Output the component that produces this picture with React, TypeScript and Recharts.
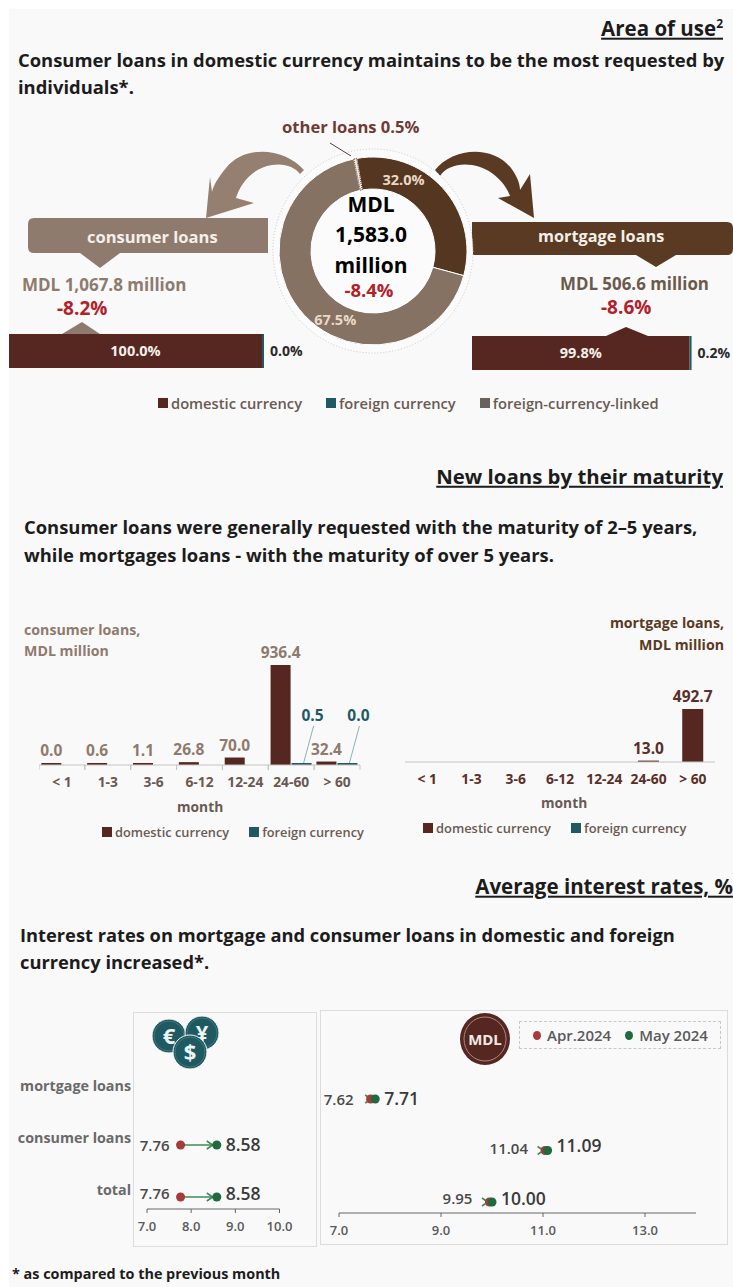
import React from "react";
import {
  BarChart,
  Bar,
  Cell,
  LabelList,
  PieChart,
  Pie,
  ReferenceLine,
  Scatter,
  ScatterChart,
  XAxis,
  YAxis,
  ZAxis,
} from "recharts";

const FONT = "'Open Sans', sans-serif";
const DOMESTIC = "#562620";
const FOREIGN = "#1f5a63";
const LINKED = "#68625d";
const CONSUMER = "#8f7b6e";
const MORTGAGE = "#5a3a22";
const RED = "#b3202a";

// area of use
const purposeNames = ["mortgage loans", "consumer loans", "other loans"];
const purposeShares = [32.0, 67.5, 0.5];
const purposeColors = ["#553620", "#857263", "#efe9e2"];
const labelAngleShift = [24.6, 17.7];
const consumerSplit = [{ name: "consumer loans", domestic: 100.0, foreign: 0.0 }];
const mortgageSplit = [{ name: "mortgage loans", domestic: 99.8, foreign: 0.2 }];

// maturity
const maturities = ["< 1", "1-3", "3-6", "6-12", "12-24", "24-60", "> 60"];
const consumerDomestic = [0.0, 0.6, 1.1, 26.8, 70.0, 936.4, 32.4];
const consumerForeign = [null, null, null, null, null, 0.5, 0.0];
const mortgageDomestic = [null, null, null, null, null, 13.0, 492.7];
const mortgageForeign = [null, null, null, null, null, null, null];
const consumerMaturity = maturities.map((m, i) => ({ m, domestic: consumerDomestic[i], foreign: consumerForeign[i] }));
const mortgageMaturity = maturities.map((m, i) => ({ m, domestic: mortgageDomestic[i], foreign: mortgageForeign[i] }));

// interest rates, rows from the bottom up
const rowNames = ["total", "consumer loans", "mortgage loans"];
const fxApr = [7.76, 7.76];
const fxMay = [8.58, 8.58];
const mdlApr = [9.95, 11.04, 7.62];
const mdlMay = [10.0, 11.09, 7.71];
const toRows = (vals: number[]) => vals.map((x, y) => ({ x, y }));

function T({ x, right, y, size, color = "#1c1c1c", weight = 700, style, children }: any) {
  return (
    <div
      style={{
        position: "absolute",
        left: x,
        right,
        top: y,
        transform: "translateY(-50%)",
        fontSize: size,
        color,
        fontWeight: weight,
        whiteSpace: "nowrap",
        lineHeight: 1.2,
        ...style,
      }}
    >
      {children}
    </div>
  );
}

function LegendRow({ items, x, y, gap, size = 14.5 }: any) {
  return (
    <div
      style={{
        position: "absolute",
        left: x,
        top: y,
        transform: "translateY(-50%)",
        display: "flex",
        gap,
        fontSize: size,
        fontWeight: 600,
        color: "#6a5a52",
        whiteSpace: "nowrap",
      }}
    >
      {items.map(([name, color]: string[]) => (
        <span key={name} style={{ display: "flex", alignItems: "center", gap: 3 }}>
          <span style={{ width: 10, height: 10, background: color, display: "inline-block" }} />
          {name}
        </span>
      ))}
    </div>
  );
}

function ShareBar({ data, x, y, width, plotWidth }: any) {
  return (
    <div style={{ position: "absolute", left: x, top: y }}>
      <BarChart
        width={width}
        height={34}
        data={data}
        layout="vertical"
        barCategoryGap={0}
        margin={{ top: 0, right: width - plotWidth, bottom: 0, left: 0 }}
      >
        <XAxis type="number" hide domain={[0, 100]} />
        <YAxis type="category" hide dataKey="name" />
        <Bar dataKey="domestic" stackId="a" fill={DOMESTIC} isAnimationActive={false}>
          <LabelList
            dataKey="domestic"
            position="center"
            formatter={(v: any) => `${Number(v).toFixed(1)}%`}
            style={{ fill: "#f4efe9", fontSize: 14.5, fontWeight: 700, fontFamily: FONT }}
          />
        </Bar>
        <Bar dataKey="foreign" stackId="a" fill={FOREIGN} minPointSize={2} isAnimationActive={false}>
          <LabelList
            dataKey="foreign"
            position="right"
            offset={6}
            formatter={(v: any) => `${Number(v).toFixed(1)}%`}
            style={{ fill: "#2a2a2a", fontSize: 14, fontWeight: 700, fontFamily: FONT }}
          />
        </Bar>
      </BarChart>
    </div>
  );
}

const pointSize = (v: any) => (v == null ? 0 : 2);

function maturityTick(color: string, bandWidth: number, marks: boolean) {
  return (p: any) => (
    <g>
      {marks && (
        <>
          <line x1={p.x - bandWidth / 2} x2={p.x - bandWidth / 2} y1={p.y - 8} y2={p.y - 3} stroke="#c4c4c4" />
          <line x1={p.x + bandWidth / 2} x2={p.x + bandWidth / 2} y1={p.y - 8} y2={p.y - 3} stroke="#c4c4c4" />
        </>
      )}
      <text x={p.x} y={p.y + 14} textAnchor="middle" fontSize={13.8} fontWeight={700} fontFamily={FONT} fill={color}>
        {p.payload.value}
      </text>
    </g>
  );
}

function foreignLabel(p: any) {
  if (p.value == null) return null;
  const { x, y, width } = p.viewBox ?? p;
  const cx = x + width / 2;
  const lean = p.index === 5 ? 4 : 12;
  return (
    <g>
      <line x1={cx + 2} y1={y} x2={cx + lean} y2={y - 37} stroke="#8fb0b5" />
      <text x={cx + lean - 1} y={y - 42} textAnchor="middle" fontSize={15.5} fontWeight={700} fontFamily={FONT} fill={FOREIGN}>
        {Number(p.value).toFixed(1)}
      </text>
    </g>
  );
}

function pieLabel(p: any) {
  if (p.index > 1) return null;
  const r = 78;
  const a = ((p.midAngle + labelAngleShift[p.index]) * Math.PI) / 180;
  return (
    <text
      x={p.cx + r * Math.cos(a)}
      y={p.cy - r * Math.sin(a)}
      textAnchor="middle"
      dominantBaseline="central"
      fontSize={14.5}
      fontWeight={700}
      fontFamily={FONT}
      fill="#ead9c4"
    >
      {p.value.toFixed(1)}%
    </text>
  );
}

// value next to a dot; rowLift moves it up a little, as in the source picture
function rateLabel(side: "left" | "right", gap: number, size: number, rowLift: number[]) {
  return (p: any) => {
    const { x, y, width, height } = p.viewBox ?? p;
    const cx = x + (width || 0) / 2;
    const cy = y + (height || 0) / 2 - rowLift[p.index];
    return (
      <text
        x={side === "left" ? cx - gap : cx + gap}
        y={cy}
        textAnchor={side === "left" ? "end" : "start"}
        dominantBaseline="central"
        fontSize={size}
        fontWeight={600}
        fontFamily={FONT}
        fill={side === "left" ? "#4a4a4a" : "#3a3a3a"}
      >
        {Number(p.value).toFixed(2)}
      </text>
    );
  };
}

function RateChart({ apr, may, x, y, width, height, domain, yDomain, ticks, left, names, aprGap, aprLift, mayLift }: any) {
  const aprRows = toRows(apr);
  const mayRows = toRows(may);
  const tick = { fontSize: 13, fontWeight: 600, fontFamily: FONT, fill: "#5a5a5a" };
  const markerId = `arrow${x}`;
  return (
    <div style={{ position: "absolute", left: x, top: y }}>
      <ScatterChart width={width} height={height} margin={{ top: 0, right: left.right, bottom: 0, left: left.left }}>
        <defs>
          <marker id={markerId} markerUnits="userSpaceOnUse" markerWidth={8} markerHeight={10} refX={11} refY={5} orient="auto">
            <path d="M1 1 L7 5 L1 9" fill="none" stroke="#3f8a55" strokeWidth={1.6} />
          </marker>
        </defs>
        <XAxis
          type="number"
          dataKey="x"
          domain={domain}
          ticks={ticks}
          height={30}
          tickFormatter={(v: number) => v.toFixed(1)}
          axisLine={{ stroke: "#666" }}
          tickLine={{ stroke: "#666" }}
          tickSize={4}
          tickMargin={9}
          tick={tick}
        />
        {names ? (
          <YAxis
            type="number"
            dataKey="y"
            domain={yDomain}
            ticks={[0, 1, 2]}
            width={left.axis}
            axisLine={false}
            tickLine={false}
            tickSize={0}
            tickMargin={16}
            tickFormatter={(v: number) => names[v]}
            tick={{ ...tick, fontSize: 14.3, dy: -7, fontWeight: 700, fill: "#6a6a6a" }}
          />
        ) : (
          <YAxis type="number" dataKey="y" domain={yDomain} hide />
        )}
        <ZAxis range={[90, 90]} />
        {aprRows.map((r: any, i: number) => (
          <ReferenceLine
            key={i}
            segment={[
              { x: r.x, y: r.y },
              { x: mayRows[i].x, y: r.y },
            ]}
            stroke="#3f8a55"
            strokeWidth={1.6}
            markerEnd={`url(#${markerId})`}
          />
        ))}
        <Scatter data={aprRows} fill="#a83a3c" isAnimationActive={false}>
          <LabelList dataKey="x" content={rateLabel("left", aprGap, 15, aprLift)} />
        </Scatter>
        <Scatter data={mayRows} fill="#1f6b3e" isAnimationActive={false}>
          <LabelList dataKey="x" content={rateLabel("right", 9, 17.5, mayLift)} />
        </Scatter>
      </ScatterChart>
    </div>
  );
}

function Decor() {
  return (
    <svg width={733} height={1287} style={{ position: "absolute", left: 0, top: 0 }}>
      {/* curved arrows out of the ring */}
      <path d="M304 170 C285 148 245 144 226 168 C218 178 214 184 212 192 L210 177 L206 218 L254 203 L236 198 C240 184 252 168 272 165 C284 163 295 167 300 174 Z" fill="#947f70" />
      <path d="M435 170 C452 148 492 144 511 168 C517 176 520 184 520 190 L530 174 L534 218 L498 198 L510 196 C506 184 492 168 472 165 C458 163 446 167 440 176 Z" fill={MORTGAGE} />
      {/* banners with pointers */}
      <path d="M34 218 H268 V253 H120 L100 268 L80 253 H34 Q28 253 28 247 V224 Q28 218 34 218 Z" fill={CONSUMER} />
      <path d="M472 222 H727 Q733 222 733 228 V249 Q733 255 727 255 H676 L656 267 L636 255 H472 Z" fill={MORTGAGE} />
      <path d="M62 334 L82 322 L100 334 Z" fill={CONSUMER} />
      <path d="M606 336 L626 327 L648 336 Z" fill={DOMESTIC} />
      {/* ring outline and leader */}
      <ellipse cx={373} cy={251} rx={100} ry={102} fill="#fbfbfb" stroke="#c9c9c9" strokeDasharray="1 2" />
      <line x1={330} y1={143} x2={351} y2={156} stroke="#5a3a3a" />
      {/* currency coins */}
      <g fontFamily={FONT} fontWeight={700} textAnchor="middle" fill="#eef3f3">
        {[
          [169, 1036, "€", 17],
          [202, 1033, "¥", 17],
          [190, 1052, "$", 17],
        ].map(([cx, cy, s, r]: any) => (
          <g key={s}>
            <circle cx={cx} cy={cy} r={r} fill={FOREIGN} stroke="#f8f8f8" />
            <circle cx={cx} cy={cy} r={r - 2} fill="none" stroke="#4f8087" strokeWidth={0.7} />
            <text x={cx} y={cy + 8} fontSize={22}>
              {s}
            </text>
          </g>
        ))}
      </g>
      <ellipse cx={485} cy={1039} rx={25} ry={26} fill={DOMESTIC} />
      <ellipse cx={485} cy={1039} rx={21} ry={22} fill="none" stroke="#a98880" strokeWidth={1} />
      <text x={485} y={1045} textAnchor="middle" fontFamily={FONT} fontWeight={700} fontSize={15} fill="#f3e8e4">
        MDL
      </text>
    </svg>
  );
}

function RateLegend() {
  return (
    <div
      style={{
        position: "absolute",
        left: 519,
        top: 1021,
        width: 200,
        height: 26,
        border: "1px dashed #c8c8c8",
        display: "flex",
        alignItems: "center",
        fontSize: 15,
        fontWeight: 600,
        color: "#5a5a5a",
        whiteSpace: "nowrap",
        zIndex: 2,
      }}
    >
      {[
        ["Apr.2024", "#a83a3c", 13],
        ["May 2024", "#1f6b3e", 14],
      ].map(([name, color, gap]: any) => (
        <span key={name} style={{ display: "flex", alignItems: "center", gap: 6, marginLeft: gap }}>
          <span style={{ width: 8, height: 9, borderRadius: "50%", background: color }} />
          {name}
        </span>
      ))}
    </div>
  );
}

export default function App() {
  return (
    <div
      style={{
        position: "absolute",
        left: 0,
        top: 0,
        width: 733,
        height: 1287,
        overflow: "hidden",
        background: "#fff",
        fontFamily: FONT,
      }}
    >
      <div style={{ position: "absolute", left: 9, top: 9, right: 0, bottom: 0, background: "#f9f9f9" }} />
      <Decor />

      <T right={10} y={28} size={20.5} style={{ textDecoration: "underline" }}>
        Area of use<sup style={{ fontSize: 12, lineHeight: 0 }}>2</sup>
      </T>
      <T x={18} y={60} size={18.4}>
        Consumer loans in domestic currency maintains to be the most requested by
      </T>
      <T x={18} y={87} size={18.4}>
        individuals*.
      </T>

      <T x={282} y={127} size={16.6} color="#6f3b35">
        other loans 0.5%
      </T>
      <div style={{ position: "absolute", left: 263, top: 141 }}>
        <PieChart width={220} height={220} margin={{ top: 0, right: 0, bottom: 0, left: 0 }}>
          <Pie
            data={purposeNames.map((name, i) => ({ name, value: purposeShares[i] }))}
            dataKey="value"
            cx={110}
            cy={110}
            innerRadius={62}
            outerRadius={94}
            startAngle={100}
            endAngle={-260}
            label={pieLabel}
            labelLine={false}
            isAnimationActive={false}
          >
            {purposeColors.map((c, i) => (
              <Cell key={i} fill={c} stroke={i === 2 ? "#5a3a22" : "#fff"} strokeDasharray={i === 2 ? "1 1" : undefined} />
            ))}
          </Pie>
        </PieChart>
      </div>
      <T x={272} y={205} size={21} color="#000" style={{ width: 198, textAlign: "center" }}>MDL</T>
      <T x={272} y={235} size={21} color="#000" style={{ width: 198, textAlign: "center" }}>1,583.0</T>
      <T x={272} y={266} size={21} color="#000" style={{ width: 198, textAlign: "center" }}>million</T>
      <T x={270} y={290} size={18.5} color={RED} style={{ width: 198, textAlign: "center" }}>-8.4%</T>

      <T x={87} y={237} size={16.5} color="#f4efe9">consumer loans</T>
      <T x={538} y={237} size={16.3} color="#f4efe9">mortgage loans</T>
      <T x={22} y={285} size={17} color={CONSUMER}>MDL 1,067.8 million</T>
      <T x={57} y={308} size={19} color={RED}>-8.2%</T>
      <T x={560} y={284} size={16.9} color="#6b5a4c">MDL 506.6 million</T>
      <T x={601} y={307} size={19} color={RED}>-8.6%</T>

      <ShareBar data={consumerSplit} x={9} y={334} width={310} plotWidth={253} />
      <ShareBar data={mortgageSplit} x={472} y={336} width={261} plotWidth={218} />

      <LegendRow
        x={158}
        y={403}
        gap={24}
        size={14.7}
        items={[
          ["domestic currency", DOMESTIC],
          ["foreign currency", FOREIGN],
          ["foreign-currency-linked", LINKED],
        ]}
      />

      <T right={10} y={476} size={20.4} style={{ textDecoration: "underline" }}>
        New loans by their maturity
      </T>
      <T x={24} y={527} size={18.4}>
        Consumer loans were generally requested with the maturity of 2–5 years,
      </T>
      <T x={24} y={555} size={18.4}>
        while mortgages loans - with the maturity of over 5 years.
      </T>

      <T x={24} y={630} size={14.2} color={CONSUMER}>consumer loans,</T>
      <T x={24} y={651} size={14.2} color={CONSUMER}>MDL million</T>
      <T right={9} y={623} size={14.2} color={MORTGAGE}>mortgage loans,</T>
      <T right={9} y={645} size={14.2} color={MORTGAGE}>MDL million</T>

      <div style={{ position: "absolute", left: 39, top: 640 }}>
        <BarChart
          width={341}
          height={155}
          data={consumerMaturity}
          barCategoryGap="5%"
          barGap={1}
          margin={{ top: 0, right: 20, bottom: 0, left: 0 }}
        >
          <XAxis
            dataKey="m"
            height={30}
            interval={0}
            axisLine={{ stroke: "#c4c4c4" }}
            tickLine={false}
            tick={maturityTick("#6a5a52", 321 / 7, true)}
          />
          <YAxis hide domain={[0, 1170]} />
          <Bar dataKey="domestic" fill={DOMESTIC} minPointSize={pointSize} isAnimationActive={false}>
            <LabelList
              dataKey="domestic"
              position="top"
              offset={7}
              formatter={(v: any) => Number(v).toFixed(1)}
              style={{ fill: CONSUMER, fontSize: 15.5, fontWeight: 700, fontFamily: FONT }}
            />
          </Bar>
          <Bar dataKey="foreign" fill={FOREIGN} minPointSize={pointSize} isAnimationActive={false}>
            <LabelList dataKey="foreign" content={foreignLabel} />
          </Bar>
        </BarChart>
      </div>
      <div style={{ position: "absolute", left: 405, top: 640 }}>
        <BarChart
          width={310}
          height={152}
          data={mortgageMaturity}
          barCategoryGap="26%"
          margin={{ top: 0, right: 0, bottom: 0, left: 0 }}
        >
          <XAxis
            dataKey="m"
            height={30}
            interval={0}
            axisLine={{ stroke: "#c4c4c4" }}
            tickLine={false}
            tick={maturityTick("#5a2f28", 310 / 7, false)}
          />
          <YAxis hide domain={[0, 1134]} />
          <Bar dataKey="domestic" stackId="a" fill={DOMESTIC} isAnimationActive={false}>
            <LabelList
              dataKey="domestic"
              position="top"
              offset={7}
              formatter={(v: any) => (v == null ? "" : Number(v).toFixed(1))}
              style={{ fill: "#5a2f28", fontSize: 15.5, fontWeight: 700, fontFamily: FONT }}
            />
          </Bar>
          <Bar dataKey="foreign" stackId="a" fill={FOREIGN} isAnimationActive={false} />
        </BarChart>
      </div>
      <T x={177} y={807} size={13.8} color="#6a5a52">month</T>
      <T x={541} y={803} size={13.8} color="#6a5a52">month</T>
      <LegendRow x={102} y={832} gap={20} size={12.8} items={[["domestic currency", DOMESTIC], ["foreign currency", FOREIGN]]} />
      <LegendRow x={423} y={828} gap={20} size={12.9} items={[["domestic currency", DOMESTIC], ["foreign currency", FOREIGN]]} />

      <T right={0} y={886} size={20.5} style={{ textDecoration: "underline" }}>
        Average interest rates, %
      </T>
      <T x={20} y={935} size={18.3}>
        Interest rates on mortgage and consumer loans in domestic and foreign
      </T>
      <T x={20} y={962} size={18.3}>
        currency increased*.
      </T>

      <div style={{ position: "absolute", left: 133, top: 1012, width: 182, height: 233, border: "1px solid #dcdcdc" }} />
      <div style={{ position: "absolute", left: 320, top: 1010, width: 406, height: 233, border: "1px solid #dcdcdc" }} />
      <RateLegend />
      <RateChart
        apr={fxApr}
        may={fxMay}
        x={0}
        y={1060}
        width={300}
        height={179}
        domain={[7, 10]}
        yDomain={[-0.23, 2.635]}
        ticks={[7, 8, 9, 10]}
        left={{ left: 0, right: 20.5, axis: 147 }}
        names={rowNames}
        aprGap={11}
        aprLift={[4, 0]}
        mayLift={[4, 1]}
      />
      <RateChart
        apr={mdlApr}
        may={mdlMay}
        x={320}
        y={1060}
        width={410}
        height={183}
        domain={[7, 14]}
        yDomain={[-0.214, 2.757]}
        ticks={[7, 9, 11, 13]}
        left={{ left: 19, right: 34, axis: 0 }}
        aprGap={17}
        aprLift={[4, 2, 0]}
        mayLift={[4, 5, 1]}
      />

      <T x={12} y={1274} size={14.4}>
        * as compared to the previous month
      </T>
    </div>
  );
}
